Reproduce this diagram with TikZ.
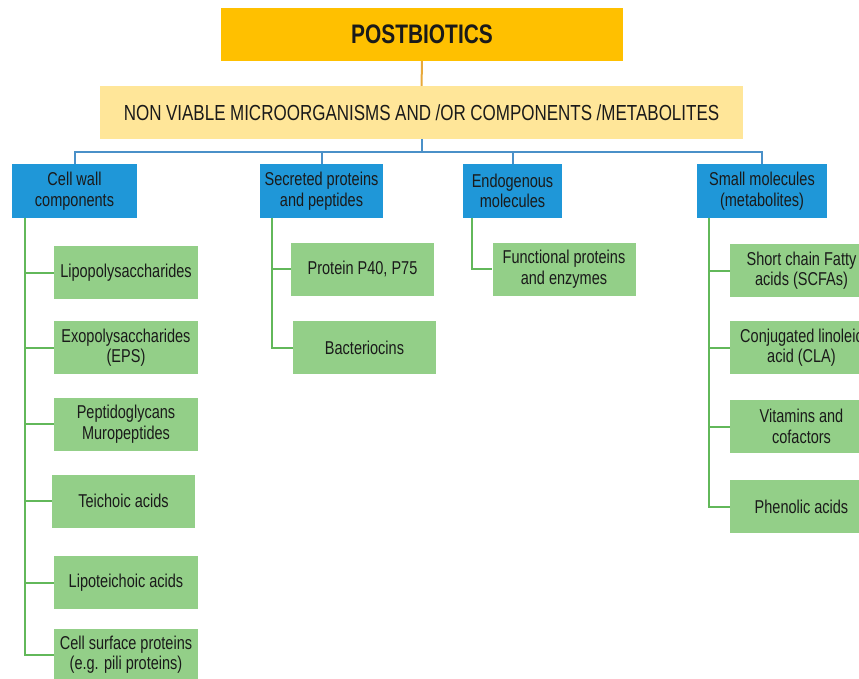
\documentclass[tikz,border=0pt]{standalone}
\usepackage{fontspec}
\setmainfont{Liberation Sans}[FakeStretch=0.78]
\usepackage{tikz}
\usetikzlibrary{positioning,calc}
\definecolor{Gold}{HTML}{FFC000}
\definecolor{Cream}{HTML}{FFE699}
\definecolor{Sky}{HTML}{1F97D8}
\definecolor{Leaf}{HTML}{93CF88}
\definecolor{LeafLine}{HTML}{62B85A}
\definecolor{SkyLine}{HTML}{4A90C8}
\definecolor{GoldLine}{HTML}{E8A93B}
\definecolor{Ink}{HTML}{1A1A1A}
\newcommand\bandfont{\fontsize{21.8}{24}\selectfont\spaceskip=4.5pt\relax}

\begin{document}
\begin{tikzpicture}[
  x=1pt,y=-1pt,
  title/.style={fill=Gold,minimum width=402pt,minimum height=53pt,inner sep=0pt,text=Ink,font=\bfseries\fontsize{26.8}{29}\selectfont},
  band/.style={fill=Cream,minimum width=643pt,minimum height=53pt,inner sep=0pt,text=Ink,font=\bandfont},
  cat/.style={fill=Sky,minimum height=54pt,inner sep=0pt,align=center,text=Ink,font=\fontsize{18.6}{20.5}\selectfont},
  item/.style={fill=Leaf,minimum width=143pt,minimum height=53pt,inner sep=0pt,align=center,text=Ink,font=\fontsize{18.6}{20.5}\selectfont},
  goldlink/.style={draw=GoldLine,line width=2pt},
  skylink/.style={draw=SkyLine,line width=2pt},
  leaflink/.style={draw=LeafLine,line width=2pt}
]
\useasboundingbox (0,0) rectangle (859,679);
\clip (0,0) rectangle (859,679);

% top levels
\node[title] (post) at (422,34.5) {POSTBIOTICS};
\node[band] (nonviable) at (421.5,112.5) {NON VIABLE MICROORGANISMS AND /OR COMPONENTS /METABOLITES};
\draw[goldlink] (post) -- (nonviable);

% categories
\node[cat,minimum width=125pt] (cellwall) at (74.5,191) {Cell wall\\components};
\node[cat,minimum width=123pt] (secreted) at (321.5,191) {Secreted proteins\\and peptides};
\node[cat,minimum width=99pt] (endo) at (512.5,191) {Endogenous\\molecules};
\node[cat,minimum width=130pt] (small) at (762,191) {Small molecules\\(metabolites)};
\coordinate (hub) at (nonviable.south |- 0,152);
\draw[skylink] (nonviable.south) -- (hub);
\draw[skylink] (hub) -| (cellwall.north);
\draw[skylink] (hub) -| (secreted.north);
\draw[skylink] (hub) -| (endo.north);
\draw[skylink] (hub) -| (small.north);

% cell wall components
\node[item,minimum width=144pt] (lps) at (126,272.5) {Lipopolysaccharides};
\node[item,minimum width=144pt] (eps) at (126,347.5) {Exopolysaccharides\\(EPS)};
\node[item,minimum width=144pt] (pgn) at (126,424) {Peptidoglycans\\Muropeptides};
\node[item] (teich) at (123.5,501) {Teichoic acids};
\node[item,minimum width=144pt] (lta) at (126,582.5) {Lipoteichoic acids};
\node[item,minimum width=144pt,minimum height=51pt] (pili) at (126,654.5) {Cell surface proteins\\(e.g. pili proteins)};
\coordinate (cwroot) at (25,218);
\foreach \n in {lps,eps,pgn,teich,lta,pili}
  \draw[leaflink] (cwroot) |- (\n.west);

% secreted proteins and peptides
\node[item] (p40) at (362.5,269) {Protein P40, P75};
\node[item] (bact) at (364.5,347.5) {Bacteriocins};
\coordinate (secroot) at (272,218);
\draw[leaflink] (secroot) |- (p40.west);
\draw[leaflink] (secroot) |- (bact.west);

% endogenous molecules
\node[item] (enz) at (564,269) {Functional proteins\\and enzymes};
\coordinate (endoroot) at (472,218);
\draw[leaflink] (endoroot) |- (enz.west);

% small molecules
\node[item] (scfa) at (801.5,270.5) {Short chain Fatty\\acids (SCFAs)};
\node[item] (cla) at (801.5,347.5) {Conjugated linoleic\\acid (CLA)};
\node[item] (vit) at (801.5,426.5) {Vitamins and\\cofactors};
\node[item] (phen) at (801.5,506.5) {Phenolic acids};
\coordinate (smroot) at (709,218);
\foreach \n in {scfa,cla,vit,phen}
  \draw[leaflink] (smroot) |- (\n.west);
\end{tikzpicture}
\end{document}
